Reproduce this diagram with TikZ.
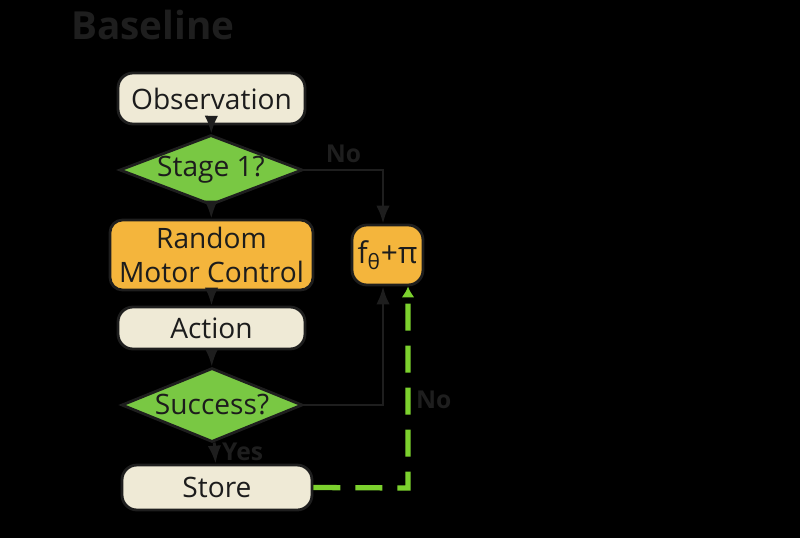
\documentclass[tikz,border=0pt]{standalone}
\usepackage{fontspec}
\setmainfont{Open Sans}
\usetikzlibrary{positioning, arrows.meta, shapes.geometric}
\definecolor{creamfill}{HTML}{EFEAD6}
\definecolor{leafgreen}{HTML}{79C843}
\definecolor{amber}{HTML}{F4B53C}
\definecolor{inkgray}{HTML}{1E1E1E}
\definecolor{dashgreen}{HTML}{7CD12E}
\definecolor{textdark}{HTML}{1C1C1C}

\begin{document}
\begin{tikzpicture}[
    % GLOBAL CFG
    font=\fontsize{16}{19}\selectfont,
    >=Latex,
    % Styles
    pill/.style={% cream rounded boxes
        rectangle,
        rounded corners=3mm,
        draw=inkgray,
        line width=1.6pt,
        fill=creamfill,
        text=textdark,
        inner sep=1pt,
        },
    decision/.style={% green questions
        diamond,
        aspect=2.6,
        draw=inkgray,
        line width=1.6pt,
        fill=leafgreen,
        text=textdark,
        inner sep=0pt,
        },
    process/.style={% orange blocks
        rectangle,
        rounded corners=2.5mm,
        draw=inkgray,
        line width=1.6pt,
        fill=amber,
        text=textdark,
        align=center,
        inner sep=1pt,
        },
    flow/.style={% plain connectors
        ->,
        draw=inkgray,
        line width=1.6pt,
        },
    feedback/.style={% green dashed return
        -{Latex[length=2.2mm, width=2.6mm]},
        draw=dashgreen,
        line width=3pt,
        dash pattern=on 5.4mm off 3mm,
        },
    branch/.style={% yes / no tags
        text=inkgray,
        font=\bfseries\fontsize{14}{16}\selectfont,
        },
    ]

    % Background and frame
    \fill [black] (0,0) rectangle (16,-10.76);
    \useasboundingbox (0,0) rectangle (16,-10.76);

    % Title
    \node [anchor=west, text=inkgray, font=\bfseries\fontsize{22}{25}\selectfont] (title) at (1.3,-0.5) {Baseline};

    % Main column
    \node [pill, minimum width=3.74cm, minimum height=1.02cm] (obs) at (4.23,-1.97) {Observation};
    \node [decision, minimum width=3.66cm, minimum height=1.40cm] (stage) at (4.22,-3.40) {Stage 1?};
    \node [process, minimum width=4.06cm, minimum height=1.40cm] (rmc) at (4.23,-5.10) {Random\\Motor Control};
    \node [pill, minimum width=3.74cm, minimum height=0.84cm] (act) at (4.23,-6.56) {Action};
    \node [decision, minimum width=3.62cm, minimum height=1.48cm] (succ) at (4.24,-8.10) {Success?};
    \node [pill, minimum width=3.80cm, minimum height=0.90cm] (store) at (4.34,-9.75) {Store};

    % Side block
    \node [process, rounded corners=3mm, minimum width=1.42cm, minimum height=1.20cm, font=\fontsize{17}{20}\selectfont] (fpi) at (7.75,-5.10) {f\textsubscript{θ}+π};

    % Turning points
    \coordinate (upturn) at (7.66,-3.40);
    \coordinate (downturn) at (7.66,-8.10);
    \coordinate (dashturn) at (8.16,-9.76);

    % Start connecting all.
    \draw [flow] (obs) -- (stage);
    \draw [flow] (stage) -- (rmc);
    \draw [flow] (rmc) -- (act);
    \draw [flow] (act) -- (succ);
    \draw [flow] (succ) -- node[branch, right, pos=0.45] (yes) {Yes} (store);

    % Branches to the side block
    \draw [flow] (stage.east) -- node[branch, above] (no1) {No} (upturn) -- (fpi.north -| upturn);
    \draw [flow] (succ.east) -- (downturn) -- (fpi.south -| downturn);
    \node [branch, anchor=west] (no2) at (8.2,-8.0) {No};

    % Feedback
    \draw [feedback] (store.east) -- (dashturn) -- (fpi.south -| dashturn);

\end{tikzpicture}
\end{document}
